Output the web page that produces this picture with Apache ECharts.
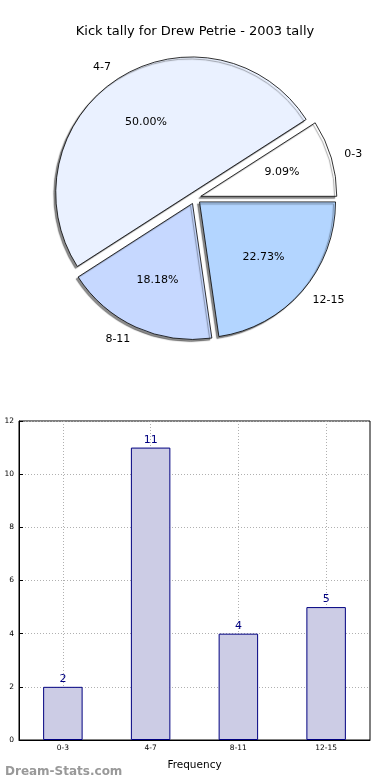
<!DOCTYPE html>
<html><head><meta charset="utf-8">
<script src="https://cdn.jsdelivr.net/npm/echarts@6/dist/echarts.min.js"></script>
<style>html,body{margin:0;padding:0;background:#fff}#c{width:390px;height:780px}</style>
</head><body><div id="c"></div>
<script>
const categories = ['0-3', '4-7', '8-11', '12-15'];
const counts = [2, 11, 4, 5];
const sliceColors = ['#ffffff', '#eaf1ff', '#c6d8ff', '#b3d5ff'];
const yTicks = [0, 2, 4, 6, 8, 10, 12];
const titleText = 'Kick tally for Drew Petrie - 2003 tally';

const R = 136;
const total = counts.reduce((a, b) => a + b, 0);
const font = 'DejaVu Sans';
const gridLine = { color: '#b0b0b0', type: [1, 2], width: 1 };

const pieData = categories.map((c, i) => ({
  name: c, value: counts[i], selected: true,
  itemStyle: { color: sliceColors[i] }
}));
const pctData = categories.map((c, i) => ({
  name: c, value: counts[i], selected: true
}));

const chart = echarts.init(document.getElementById('c'), null, { renderer: 'canvas' });
chart.setOption({
  animation: false,
  backgroundColor: '#fff',
  title: [{
    text: titleText, left: 'center', top: 20,
    textStyle: { fontFamily: font, fontSize: 13, fontWeight: 'normal', color: '#000' }
  }, {
    text: 'Dream-Stats.com', left: 0, top: 761,
    textStyle: { fontFamily: font, fontSize: 12, fontWeight: 'bold', color: '#999' }
  }],
  grid: {
    left: 19, right: 20, top: 421, bottom: 40,
    outerBoundsMode: 'none', containLabel: false,
    show: true, borderColor: '#000', borderWidth: 1, backgroundColor: 'transparent'
  },
  xAxis: {
    type: 'category', data: categories,
    name: 'Frequency', nameLocation: 'middle', nameGap: 20,
    nameTextStyle: { fontFamily: font, fontSize: 10.5, color: '#000' },
    axisLine: { show: true, lineStyle: { color: '#000' } },
    axisTick: { show: true, alignWithLabel: true, inside: true, length: 4, lineStyle: { color: '#000' } },
    axisLabel: { fontFamily: font, fontSize: 7.5, color: '#000', margin: 4 },
    splitLine: { show: false }
  },
  yAxis: {
    type: 'value', min: 0, max: 12, interval: 2,
    name: 'Distribution', nameLocation: 'middle', nameGap: 20, nameRotate: 90,
    nameTextStyle: { fontFamily: font, fontSize: 10.5, color: '#000' },
    axisLine: { show: true, lineStyle: { color: '#000' } },
    axisTick: { show: true, inside: true, length: 4, lineStyle: { color: '#000' } },
    axisLabel: {
      fontFamily: font, fontSize: 7.5, color: '#000', margin: 5,
      formatter: v => yTicks.includes(v) ? String(v) : ''
    },
    splitLine: { show: true, lineStyle: gridLine }
  },
  series: [{
    type: 'bar', data: counts, barWidth: '45%',
    itemStyle: { color: '#ccccE5', borderColor: '#000080', borderWidth: 1 },
    label: { show: true, position: 'top', distance: 2, fontFamily: font, fontSize: 11, color: '#000080' },
    markLine: {
      silent: true, symbol: 'none', label: { show: false },
      lineStyle: gridLine, z: 0,
      data: categories.map(c => ({ xAxis: c }))
    },
    z: 2
  }, {
    type: 'pie', center: [195, 198], radius: [0, R],
    startAngle: 0, clockwise: false,
    selectedMode: 'multiple', selectedOffset: 6,
    data: pieData, silent: true,
    itemStyle: {
      borderColor: '#000', borderWidth: 0.8,
      shadowColor: 'rgba(0,0,0,0.45)', shadowBlur: 1, shadowOffsetX: -2, shadowOffsetY: 2
    },
    label: {
      show: true, position: 'outside', fontFamily: font, fontSize: 11, color: '#000',
      distanceToLabelLine: 0, formatter: '{b}'
    },
    labelLine: { show: false, length: R * 0.1, length2: 0 },
    emphasis: { disabled: true }
  }, {
    type: 'pie', center: [195, 198], radius: [R * 0.2, R],
    startAngle: 0, clockwise: false,
    selectedMode: 'multiple', selectedOffset: 6,
    data: pctData, silent: true,
    itemStyle: { color: 'rgba(0,0,0,0)', borderWidth: 0 },
    label: {
      show: true, position: 'inside', fontFamily: font, fontSize: 11, color: '#000',
      formatter: p => (p.value / total * 100).toFixed(2) + '%'
    },
    labelLine: { show: false },
    emphasis: { disabled: true },
    z: 3
  }]
});
</script>
</body></html>
